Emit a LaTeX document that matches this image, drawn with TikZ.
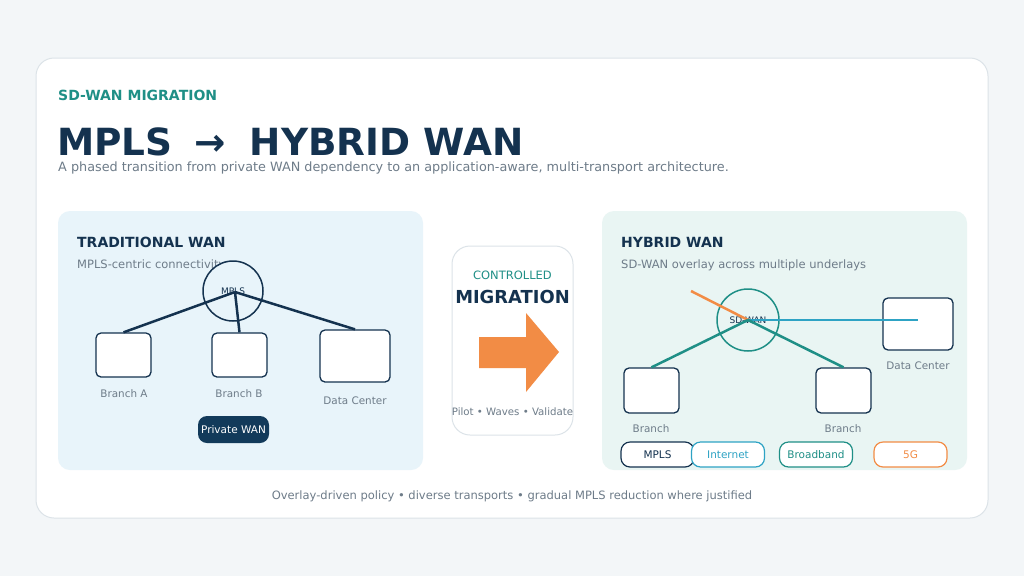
\documentclass[tikz,border=0pt]{standalone}
\usepackage{fontspec}
\setmainfont{DejaVu Sans}
\definecolor{pagebg}{HTML}{F3F6F8}
\definecolor{cardborder}{HTML}{DCE3E8}
\definecolor{navy}{HTML}{14324F}
\definecolor{teal}{HTML}{1F8F86}
\definecolor{graytext}{HTML}{6E7C89}
\definecolor{lblue}{HTML}{E8F4FA}
\definecolor{lteal}{HTML}{E9F5F3}
\definecolor{netblue}{HTML}{2EA3C4}
\definecolor{orange}{HTML}{F28C45}
\definecolor{pillnavy}{HTML}{123A5A}
\tikzset{
  fs/.style={font=\fontsize{#1}{#1}\selectfont},
  bfs/.style={font=\fontsize{#1}{#1}\selectfont\bfseries},
  txt/.style={inner sep=0pt, anchor=base west},
  ctxt/.style={inner sep=0pt, anchor=base},
  devbox/.style={draw=navy, line width=1.3pt, fill=white, rounded corners=5pt},
  hub/.style={circle, line width=1.5pt, inner sep=0pt},
  link/.style={line width=2.5pt},
  pill/.style={rounded corners=9pt, line width=1.2pt, fill=white, minimum height=25pt, minimum width=73pt, inner sep=0pt, fs=10.5}
}
\begin{document}
\begin{tikzpicture}[x=1pt,y=-1pt]
\useasboundingbox (0,0) rectangle (1024,576);
\fill[pagebg] (0,0) rectangle (1024,576);
% main card
\draw[cardborder, fill=white, line width=1pt, rounded corners=18pt] (36,58) rectangle (988,518);
% header
\node[txt, bfs=14, text=teal] (kicker) at (58,100) {SD-WAN MIGRATION};
\node[txt, bfs=37.4, text=navy] (title) at (57,155) {MPLS\hspace{22pt}→\hspace{24pt}HYBRID WAN};
\node[txt, fs=12.8, text=graytext] (sub) at (58,171) {A phased transition from private WAN dependency to an application-aware, multi-transport architecture.};
% panels
\fill[lblue, rounded corners=12pt] (58,211) rectangle (423,470);
\fill[lteal, rounded corners=12pt] (602,211) rectangle (967,470);
\draw[cardborder, fill=white, line width=1pt, rounded corners=18pt] (452,246) rectangle (573,435);

% left panel
\node[txt, bfs=14, text=navy] (lt) at (77,247) {TRADITIONAL WAN};
\node[txt, fs=11.5, text=graytext] (ls) at (77,268) {MPLS-centric connectivity};
\node[hub, draw=navy, fill=lblue, minimum size=60pt] (mpls) at (233,291) {};
\node[fs=9, text=navy, inner sep=0pt] (mplslbl) at (233,291) {MPLS};
\node[devbox, minimum width=55pt, minimum height=44pt] (ba) at (123.5,355) {};
\node[devbox, minimum width=55pt, minimum height=44pt] (bb) at (239.5,355) {};
\node[devbox, minimum width=70pt, minimum height=52pt] (dc) at (355,356) {};
\coordinate (lc) at (235,292);
\draw[navy, link] (lc) -- (ba.north);
\draw[navy, link] (lc) -- (bb.north);
\draw[navy, link] (lc) -- (dc.north);
\node[ctxt, fs=10.4, text=graytext] (bal) at (124,397) {Branch A};
\node[ctxt, fs=10.4, text=graytext] (bbl) at (239,397) {Branch B};
\node[ctxt, fs=10.4, text=graytext] (dcl) at (355,404) {Data Center};
\node[fill=pillnavy, text=white, rounded corners=9pt, minimum width=71pt, minimum height=27pt, inner sep=0pt, fs=10.5] (pw) at (233.5,429.5) {Private WAN};

% middle
\node[ctxt, fs=11.5, text=teal] (ctrl) at (512.5,279) {CONTROLLED};
\node[ctxt, bfs=17.9, text=navy] (mig) at (512.5,303) {MIGRATION};
\fill[orange] (479,337) -- (526,337) -- (526,313) -- (559,352) -- (526,392) -- (526,368) -- (479,368) -- cycle;
\node[ctxt, fs=10.2, text=graytext] (pwv) at (512.5,415) {Pilot • Waves • Validate};

% right panel
\node[txt, bfs=14, text=navy] (rt) at (621,247) {HYBRID WAN};
\node[txt, fs=11.5, text=graytext] (rs) at (621,268) {SD-WAN overlay across multiple underlays};
\node[hub, draw=teal, fill=lteal, minimum size=62pt] (sdw) at (748,320) {};
\node[fs=9, text=navy, inner sep=0pt] (sdwlbl) at (748,320) {SD-WAN};
\node[devbox, minimum width=55pt, minimum height=45pt] (rb1) at (651.5,390.5) {};
\node[devbox, minimum width=55pt, minimum height=45pt] (rb2) at (843.5,390.5) {};
\node[devbox, minimum width=70pt, minimum height=52pt] (rdc) at (918,324) {};
\coordinate (rc) at (748,320);
\coordinate (rdcport) at (918,320);
\coordinate (fiveg) at (691,291);
\draw[orange, link] (fiveg) -- (rc);
\draw[netblue, link] (rc) -- (rdcport);
\draw[teal, link] (rc) -- (rb1.north);
\draw[teal, link] (rc) -- (rb2.north);
\node[ctxt, fs=10.4, text=graytext] (rb1l) at (651,432) {Branch};
\node[ctxt, fs=10.4, text=graytext] (rb2l) at (843,432) {Branch};
\node[ctxt, fs=10.4, text=graytext] (rdcl) at (918,369) {Data Center};
\node[pill, draw=navy, text=navy] (pm) at (657.5,454.5) {MPLS};
\node[pill, draw=netblue, text=netblue] (pi) at (728,454.5) {Internet};
\node[pill, draw=teal, text=teal] (pb) at (816,454.5) {Broadband};
\node[pill, draw=orange, text=orange] (p5) at (910.5,454.5) {5G};

% footer
\node[ctxt, fs=11.5, text=graytext] (foot) at (512,499) {Overlay-driven policy • diverse transports • gradual MPLS reduction where justified};
\end{tikzpicture}
\end{document}
